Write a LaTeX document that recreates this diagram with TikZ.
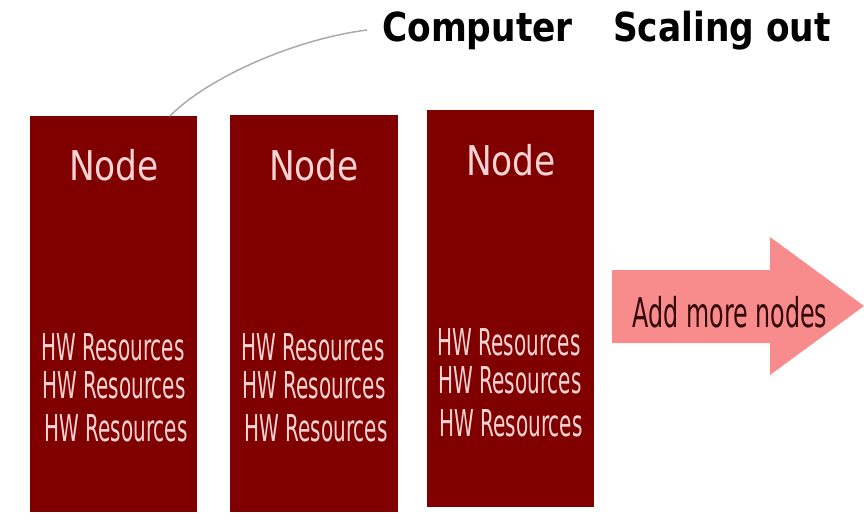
\documentclass[tikz,border=0pt]{standalone}
\usepackage{fontspec}
\setmainfont{DejaVu Sans}
\newfontfamily\titlefont[FakeStretch=0.86]{DejaVu Sans}
\newfontfamily\nodefont[FakeStretch=0.84]{DejaVu Sans}
\newfontfamily\hwfont[FakeStretch=0.54]{DejaVu Sans}
\newfontfamily\addfont[FakeStretch=0.58]{DejaVu Sans}
\definecolor{boxred}{RGB}{128,0,0}
\definecolor{boxtext}{RGB}{250,212,212}
\definecolor{arrowfill}{RGB}{248,140,140}
\definecolor{arrowtext}{RGB}{50,8,8}
\definecolor{leader}{RGB}{170,170,170}
\tikzset{
  serverbox/.style={fill=boxred, draw=none, inner sep=0pt, anchor=north west},
  titletext/.style={font=\titlefont\bfseries\fontsize{40}{48}\selectfont, text=black, anchor=base west, inner sep=0pt},
  nodetitle/.style={font=\nodefont\fontsize{41}{48}\selectfont, text=boxtext, anchor=base, inner sep=0pt},
  hwtext/.style={font=\hwfont\fontsize{37}{42}\selectfont, text=boxtext, anchor=base, inner sep=0pt},
  addtext/.style={font=\addfont\fontsize{41}{48}\selectfont, text=arrowtext, anchor=base, inner sep=0pt},
  leaderline/.style={draw=leader, line width=1.5pt}
}
\begin{document}
\begin{tikzpicture}[x=1pt,y=-1pt]
\useasboundingbox (0,0) rectangle (864,521);
% boxes
\node[serverbox, minimum width=167pt, minimum height=396pt] (b1) at (30,116) {};
\node[serverbox, minimum width=168pt, minimum height=397pt] (b2) at (230,115) {};
\node[serverbox, minimum width=167pt, minimum height=397pt] (b3) at (427,110) {};
% node titles
\node[nodetitle] (n1) at (114,181) {Node};
\node[nodetitle] (n2) at (314,181) {Node};
\node[nodetitle] (n3) at (511,176) {Node};
% HW lines
\node[hwtext] (h11) at (113,360) {HW Resources};
\node[hwtext] (h12) at (114,398) {HW Resources};
\node[hwtext] (h13) at (116,441) {HW Resources};
\node[hwtext] (h21) at (313,360) {HW Resources};
\node[hwtext] (h22) at (314,398) {HW Resources};
\node[hwtext] (h23) at (316,441) {HW Resources};
\node[hwtext] (h31) at (509,355) {HW Resources};
\node[hwtext] (h32) at (510,393) {HW Resources};
\node[hwtext] (h33) at (511,436) {HW Resources};
% title
\node[titletext] (comp) at (382,42) {Computer};
\node[titletext] (scal) at (613,42) {Scaling out};
% leader curve
\coordinate (lstart) at (170,116);
\coordinate (lend) at (367,30);
\draw[leaderline] (lstart) .. controls (205,80) and (290,40) .. (lend);
% arrow
\fill[arrowfill] (612,270) -- (770,270) -- (770,237) -- (864,306) -- (770,375) -- (770,343) -- (612,343) -- cycle;
\node[addtext] (add) at (730,327) {Add more nodes};
\end{tikzpicture}
\end{document}
